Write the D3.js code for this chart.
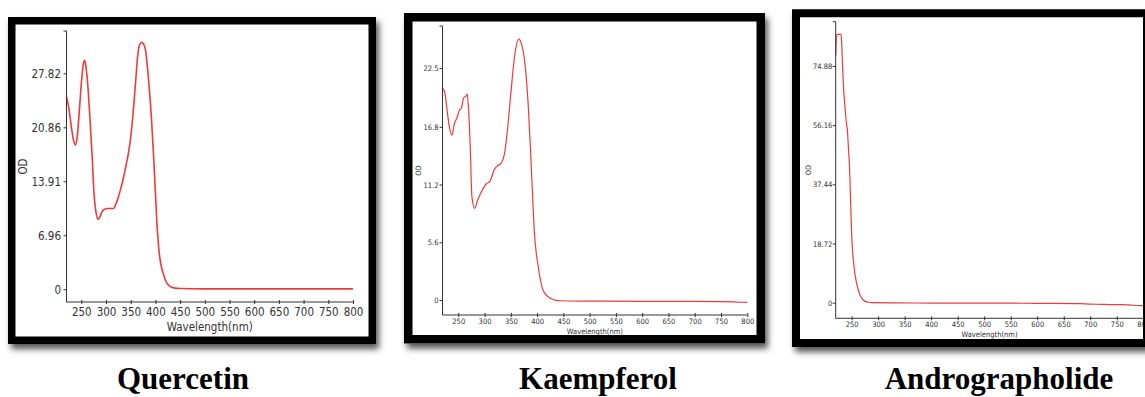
<!DOCTYPE html>
<html>
<head>
<meta charset="utf-8">
<script src="https://cdn.jsdelivr.net/npm/d3@7"></script>
<style>
body{margin:0;background:#fff;}
svg{display:block;}
</style>
</head>
<body>
<svg id="fig" width="1145" height="397"></svg>
<script>
// wavelength ticks, same on all three spectra
var wlTicks = [250,300,350,400,450,500,550,600,650,700,750,800];

// Quercetin spectrum
var quercetinWl = [220,225,228,232,235,238,242,246,250,254,256,258,261,264,268,272,276,280,284,288,292,297,302,308,315,320,325,330,335,340,345,350,355,360,364,368,372,376,380,384,388,392,396,400,404,408,412,416,420,426,432,440,450,500,550,600,650,700,750,800];
var quercetinOD = [24.8,23.2,21.8,20.0,19.0,18.6,19.8,23.0,26.5,29.0,29.5,29.2,27.8,25.5,21.5,17.0,12.0,9.8,9.0,9.4,10.0,10.3,10.4,10.4,10.4,11.0,11.9,13.0,14.3,15.8,17.4,19.6,22.8,26.8,30.0,31.5,31.8,31.6,30.8,28.5,25.5,22.0,17.5,12.4,7.5,4.5,2.9,2.0,1.2,0.55,0.3,0.15,0.1,0.05,0.05,0.05,0.05,0.05,0.05,0.05];
var quercetinTicks = [0,6.96,13.91,20.86,27.82];

// Kaempferol spectrum
var kaempferolWl = [219,224,229,233,238,243,247,252,256,260,265,267,270,273,276,281,287,294,304,310,319,327,332,338,343,350,357,365,370,376,383,389,395,402,411,424,443,500,600,700,750,780,800];
var kaempferolOD = [20.6,20.2,18.3,16.8,16.0,17.2,17.6,18.4,18.6,19.6,19.8,20.0,18.1,14.5,10.0,8.9,9.7,10.5,11.3,11.5,12.7,13.1,13.3,14.2,16.2,20.0,23.6,25.3,24.9,23.3,19.0,12.9,6.4,3.3,1.0,0.2,-0.07,-0.1,-0.12,-0.12,-0.15,-0.2,-0.23];
var kaempferolTicks = [0,5.6,11.2,16.8,22.5];

// Andrographolide spectrum
var androWl = [220,222,230,231,233,235.5,237.5,240,242,244,246,248,250,252,254.5,257,259.5,263,266,270,275,282,290,330,400,500,600,680,700,720,740,760,780,800];
var androOD = [78.3,84.9,84.9,83.0,74.6,66.0,62.0,57.0,54.6,49.0,43.0,33.0,21.9,16.0,11.4,8.3,6.1,3.8,2.4,1.2,0.5,0.15,0,-0.05,-0.1,-0.1,-0.2,-0.3,-0.45,-0.5,-0.6,-0.6,-0.8,-0.9];
var androTicks = [0,18.72,37.44,56.16,74.88];

var names = ["Quercetin","Kaempferol","Andrographolide"];

var svg = d3.select("#fig");

var defs = svg.append("defs");
defs.append("filter")
    .attr("id","shadow")
    .attr("x","-10%").attr("y","-10%")
    .attr("width","130%").attr("height","130%")
    .append("feGaussianBlur")
    .attr("stdDeviation",3);

var labelFont = "'DejaVu Sans Condensed','DejaVu Sans',sans-serif";

var drawPanel = function(p)
{
    var g = svg.append("g");
    var o = p.frame;   // outer box [x0,y0,x1,y1]
    var t = p.border;

    // shadow under the frame
    g.append("rect")
        .attr("x",o[0]+3).attr("y",o[1]+5)
        .attr("width",o[2]-o[0]).attr("height",o[3]-o[1])
        .attr("fill","#555")
        .attr("filter","url(#shadow)");
    g.append("rect")
        .attr("x",o[0]).attr("y",o[1])
        .attr("width",o[2]-o[0]).attr("height",o[3]-o[1])
        .attr("fill","#fff");

    var xScale = d3.scaleLinear()
                .domain([220,800])
                .range([p.left,p.right]);
    var yScale = d3.scaleLinear()
                .domain([p.yMin,p.yMax])
                .range([p.bottom,p.top]);

    // spectrum line
    var line = d3.line()
        .x(function(d){return xScale(d[0]);})
        .y(function(d){return yScale(d[1]);})
        .curve(d3.curveMonotoneX);

    g.append("path")
        .datum(d3.zip(p.wl,p.od))
        .attr("d",line)
        .attr("fill","none")
        .attr("stroke","#f03a3a")
        .attr("stroke-width",p.lineWidth);

    //x axis
    var xAxis = g.append("g")
        .attr("transform","translate(0,"+p.bottom+")")
        .call(d3.axisBottom(xScale).tickValues(wlTicks).tickSizeOuter(0).tickFormat(d3.format("d")));
    xAxis.select(".domain")
        .attr("d","M"+p.left+",0H"+p.right)
        .attr("stroke","#333");
    xAxis.selectAll(".tick line")
        .attr("y1",-2).attr("y2",2).attr("stroke","#333");
    xAxis.selectAll(".tick text")
        .attr("y",p.xLabelOff).attr("dy","0.35em")
        .attr("fill","#333")
        .style("font-family",labelFont)
        .style("font-size",p.font+"px");

    //y axis
    var yAxis = g.append("g")
        .attr("transform","translate("+p.left+",0)")
        .call(d3.axisLeft(yScale).tickValues(p.ticks).tickSize(3).tickSizeOuter(0)
              .tickFormat(function(d){return String(d);}));
    yAxis.select(".domain")
        .attr("d","M-3,"+p.top+"H0V"+p.bottom)
        .attr("stroke","#333");
    yAxis.selectAll(".tick line").attr("stroke","#333");
    yAxis.selectAll(".tick text")
        .attr("x",-p.yLabelOff).attr("dy","0.35em")
        .attr("fill","#333")
        .style("font-family",labelFont)
        .style("font-size",p.font+"px");

    g.append("text")
        .attr("x",(p.left+p.right)/2)
        .attr("y",p.bottom+p.titleOff)
        .attr("dy","0.35em")
        .attr("text-anchor","middle")
        .attr("fill","#333")
        .style("font-family",labelFont)
        .style("font-size",p.font+"px")
        .text("Wavelength(nm)");

    g.append("text")
        .attr("transform","translate("+p.odX+","+((p.top+p.bottom)/2)+") rotate(-90)")
        .attr("dy","0.35em")
        .attr("text-anchor","middle")
        .attr("fill","#333")
        .style("font-family",labelFont)
        .style("font-size",p.font+"px")
        .text("OD");

    // black frame drawn last so it hides what runs past it
    g.append("path")
        .attr("d","M"+o[0]+","+o[1]+"H"+o[2]+"V"+o[3]+"H"+o[0]+"Z"
             +"M"+(o[0]+t)+","+(o[1]+t)+"V"+(o[3]-t)+"H"+(o[2]-t)+"V"+(o[1]+t)+"Z")
        .attr("fill","#000")
        .attr("fill-rule","evenodd");

    svg.append("text")
        .attr("x",p.nameX)
        .attr("y",389)
        .attr("text-anchor","middle")
        .style("font-family","'Liberation Serif','Times New Roman',serif")
        .style("font-weight","bold")
        .style("font-size","31px")
        .text(p.name);
}

drawPanel({
    name:names[0], nameX:183,
    wl:quercetinWl, od:quercetinOD, ticks:quercetinTicks,
    frame:[8,17,376,344], border:7.5,
    left:66.5, right:353, top:31, bottom:302,
    yMin:-1.64, yMax:33.27,
    font:11.5, xLabelOff:10, yLabelOff:5.5, titleOff:24.7, odX:23,
    lineWidth:1.6
});

drawPanel({
    name:names[1], nameX:598,
    wl:kaempferolWl, od:kaempferolOD, ticks:kaempferolTicks,
    frame:[404,13,765,343.5], border:8.5,
    left:442.5, right:747.3, top:26, bottom:315,
    yMin:-1.45, yMax:26.58,
    font:7.5, xLabelOff:6.7, yLabelOff:4, titleOff:16.7, odX:418.3,
    lineWidth:1.2
});

drawPanel({
    name:names[2], nameX:999,
    wl:androWl, od:androOD, ticks:androTicks,
    frame:[792,9.3,1151,347], border:8,
    left:835.7, right:1143.3, top:21.7, bottom:318.3,
    yMin:-4.93, yMax:88.9,
    font:7.5, xLabelOff:5.7, yLabelOff:3.4, titleOff:15.7, odX:808.3,
    lineWidth:1.2
});
</script>
</body>
</html>
